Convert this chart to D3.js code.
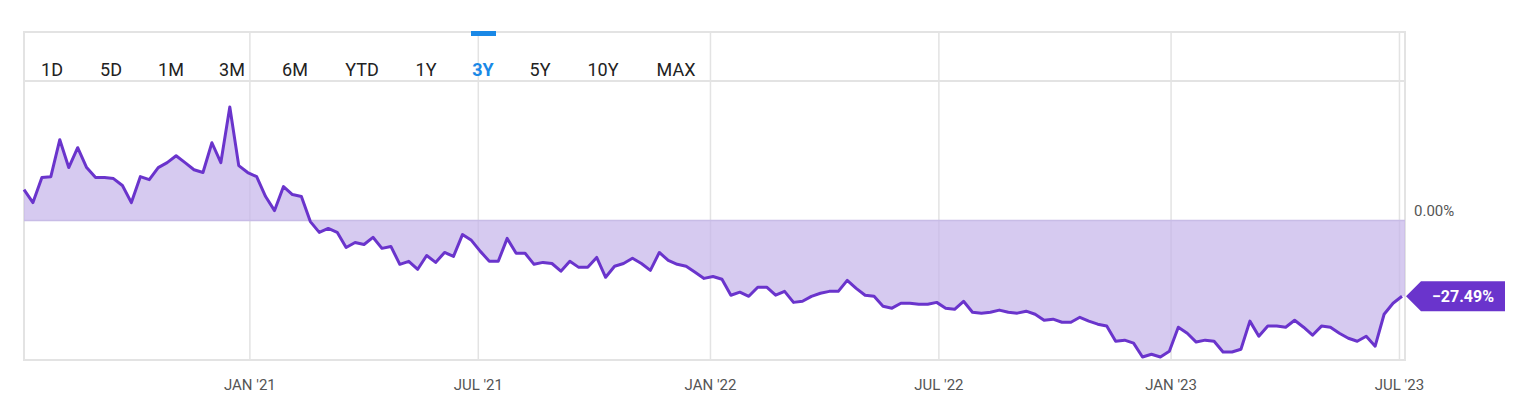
<!DOCTYPE html>
<html>
<head>
<meta charset="utf-8">
<script src="https://cdn.jsdelivr.net/npm/d3@7"></script>
<style>
body{margin:0;background:#fff;font-family:Roboto,"Liberation Sans",sans-serif;}
</style>
</head>
<body>
<svg id="chart" width="1536" height="414"></svg>
<script>
// weekly total return (%)
const returns = [11.2,6.5,15.6,15.9,29.3,19.2,26.4,19.2,15.6,15.6,15.2,12.7,6.5,15.9,14.8,19.2,21.0,23.5,21.0,18.4,17.4,28.2,21.0,41.2,19.9,17.4,15.9,8.7,3.6,12.3,9.4,8.7,-0.4,-4.3,-2.9,-4.3,-9.8,-8.0,-8.7,-6.1,-10.1,-9.4,-15.9,-14.8,-17.7,-12.7,-15.2,-11.6,-13.0,-5.1,-7.2,-11.2,-14.8,-14.8,-6.5,-11.9,-11.9,-15.9,-15.2,-15.6,-18.4,-14.8,-17.0,-17.0,-13.4,-20.6,-16.6,-15.6,-13.7,-15.6,-18.1,-11.6,-14.5,-15.9,-16.6,-18.8,-21.0,-20.3,-21.3,-27.1,-26.0,-27.5,-24.2,
  -24.2,-27.1,-25.7,-29.7,-29.3,-27.5,-26.4,-25.7,-25.7,-21.7,-24.6,-27.1,-27.5,-31.1,-31.8,-30.0,-30.0,-30.4,-30.4,-29.7,-31.8,-32.2,-29.3,-33.3,-33.6,-33.3,-32.5,-33.3,-33.6,-32.9,-34.0,-36.2,-35.8,-36.9,-36.9,-35.1,-36.5,-37.6,-38.3,-43.8,-43.4,-44.5,-49.5,-48.5,-49.5,-47.4,-38.7,-40.9,-44.1,-43.4,-43.8,-47.7,-47.7,-46.7,-36.5,-42.0,-38.3,-38.3,-38.7,-36.2,-38.7,-41.6,-38.3,-38.7,-40.9,-42.7,-43.8,-42.0,-45.6,-34.0,-30.0,-27.49];
const startDate = new Date(2020, 6, 6);
const endDate = new Date(2023, 6, 3);
const tickDates = [new Date(2021,0,1), new Date(2021,6,1), new Date(2022,0,1), new Date(2022,6,1), new Date(2023,0,1), new Date(2023,6,1)];
const tickLabels = ["JAN '21","JUL '21","JAN '22","JUL '22","JAN '23","JUL '23"];
const ranges = ["1D","5D","1M","3M","6M","YTD","1Y","3Y","5Y","10Y","MAX"];
const rangeX = [52,111,171,232,295,362,426,483,540,603,676];

const svg = d3.select("#chart");
const pLeft = 24, pRight = 1405, pTop = 32, barBottom = 81, pBottom = 360;

const step = (endDate - startDate) / (returns.length - 1);
const data = returns.map((v, i) => ({date: new Date(+startDate + i * step), v: v}));

const x = d3.scaleTime().domain([startDate, endDate]).range([pLeft, 1402]);
const y = d3.scaleLinear().domain([-50.6, 50.6]).range([pBottom, barBottom]);

// frame and grid
svg.append("rect").attr("x", pLeft).attr("y", pTop).attr("width", pRight - pLeft).attr("height", pBottom - pTop)
  .attr("fill", "none").attr("stroke", "#e3e3e3").attr("stroke-width", 2);
svg.append("line").attr("x1", pLeft).attr("x2", pRight).attr("y1", barBottom).attr("y2", barBottom)
  .attr("stroke", "#e3e3e3").attr("stroke-width", 2);
svg.selectAll(".grid").data(tickDates).enter().append("line")
  .attr("x1", d => x(d)).attr("x2", d => x(d)).attr("y1", pTop).attr("y2", pBottom)
  .attr("stroke", "#e3e3e3").attr("stroke-width", 1.5);

// area to zero
const area = d3.area().x(d => x(d.date)).y0(y(0)).y1(d => y(d.v));
svg.append("path").datum(data).attr("d", area).attr("fill", "#c4b3ea").attr("fill-opacity", 0.7);
svg.append("rect").attr("x", 1402).attr("y", y(0)).attr("width", pRight - 1402).attr("height", y(returns[returns.length-1]) - y(0))
  .attr("fill", "#c4b3ea").attr("fill-opacity", 0.7);
svg.append("line").attr("x1", pLeft).attr("x2", pRight).attr("y1", y(0)).attr("y2", y(0))
  .attr("stroke", "#c8bce6").attr("stroke-width", 1.5);

const line = d3.line().x(d => x(d.date)).y(d => y(d.v));
svg.append("path").datum(data).attr("d", line).attr("fill", "none")
  .attr("stroke", "#6a34cc").attr("stroke-width", 3).attr("stroke-linejoin", "round");

// range buttons
svg.selectAll(".rng").data(ranges).enter().append("text")
  .attr("x", (d, i) => rangeX[i]).attr("y", 76).attr("text-anchor", "middle")
  .attr("font-size", 18).attr("font-weight", d => d == "3Y" ? 700 : 400)
  .attr("fill", d => d == "3Y" ? "#1a88e6" : "#222").text(d => d);
svg.append("rect").attr("x", 471).attr("y", 31).attr("width", 25).attr("height", 5).attr("fill", "#1a88e6");

// axis labels
svg.selectAll(".xl").data(tickDates).enter().append("text")
  .attr("x", d => x(d)).attr("y", 390).attr("text-anchor", "middle")
  .attr("font-size", 15).attr("fill", "#555").text((d, i) => tickLabels[i]);
svg.append("text").attr("x", 1414).attr("y", 216).attr("font-size", 15).attr("fill", "#555").text("0.00%");

// last value callout
const lastY = y(returns[returns.length - 1]);
svg.append("path")
  .attr("d", `M1406,${lastY} L1421,${lastY-15} L1505,${lastY-15} L1505,${lastY+15} L1421,${lastY+15} Z`)
  .attr("fill", "#6a34cc");
svg.append("text").attr("x", 1463).attr("y", lastY + 6).attr("text-anchor", "middle")
  .attr("font-size", 16).attr("font-weight", 700).attr("fill", "#fff")
  .text(d3.format(".2f")(returns[returns.length - 1]) + "%");
</script>
</body>
</html>
